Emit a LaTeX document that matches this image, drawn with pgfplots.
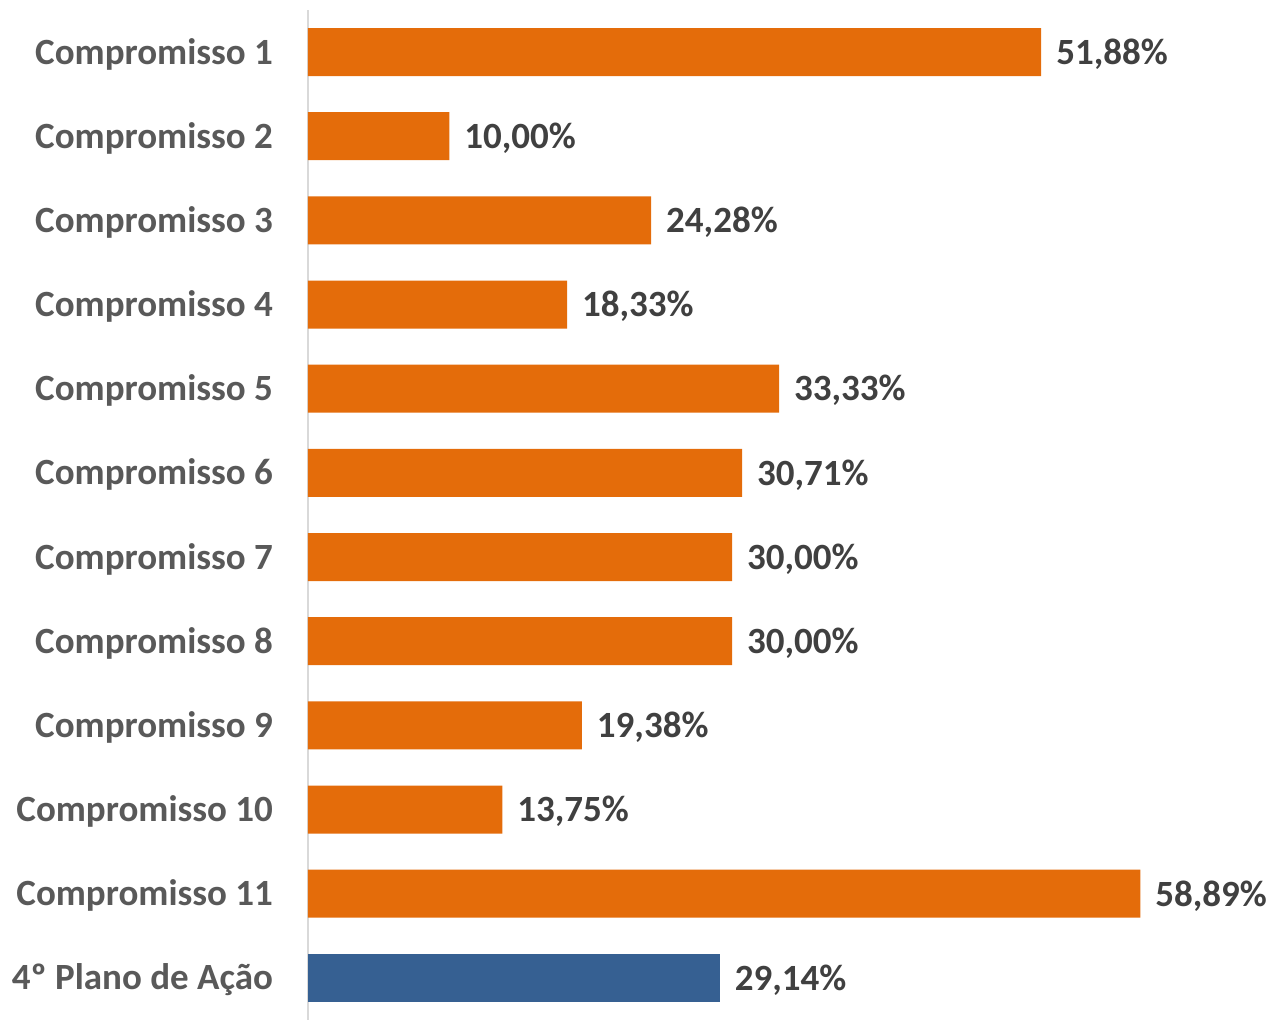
\documentclass[border=0pt]{standalone}
\usepackage{pgfplots}
\pgfplotsset{compat=1.18}
\usepackage{fontspec}
\setmainfont{Carlito}
\definecolor{barorange}{HTML}{E46C0A}
\definecolor{barblue}{HTML}{366092}
\definecolor{labgray}{HTML}{595959}
\definecolor{valgray}{HTML}{404040}
\definecolor{axgray}{HTML}{D9D9D9}
\begin{document}
\begin{tikzpicture}[x=1pt,y=1pt]
\begin{axis}[
  name=ax,
  scale only axis,
  width=424pt, height=505pt,
  xbar, bar width=24pt, bar shift=0pt,
  xmin=0, xmax=60,
  ymin=-0.5, ymax=11.5,
  axis x line=none,
  axis y line*=left,
  y axis line style={axgray, line width=1pt, -},
  ytick={0,...,11},
  yticklabels={4º Plano de Ação,Compromisso 11,Compromisso 10,Compromisso 9,Compromisso 8,Compromisso 7,Compromisso 6,Compromisso 5,Compromisso 4,Compromisso 3,Compromisso 2,Compromisso 1},
  yticklabel style={font=\fontsize{18.5}{20}\selectfont\bfseries, text=labgray, yshift=-1pt},
  major tick length=0pt,
  y tick label style={xshift=-14pt},
  /pgf/number format/assume math mode=true,
  nodes near coords={\pgfmathprintnumber[fixed,fixed zerofill,precision=2,use comma,assume math mode=true]{\pgfplotspointmeta}\%},
  nodes near coords style={font=\fontsize{18.5}{20}\selectfont\bfseries, text=valgray, anchor=west, xshift=4pt, yshift=-1pt},
  point meta=x,
  clip=false,
]
\addplot[fill=barorange, draw=none] coordinates {
  (51.88,11) (10.00,10) (24.28,9) (18.33,8) (33.33,7) (30.71,6)
  (30.00,5) (30.00,4) (19.38,3) (13.75,2) (58.89,1)
};
\addplot[fill=barblue, draw=none] coordinates {(29.14,0)};
\end{axis}
\pgfresetboundingbox
\path[use as bounding box] (ax.south west) ++(-154pt,4pt) rectangle ++(637pt,506pt);
\end{tikzpicture}
\end{document}
